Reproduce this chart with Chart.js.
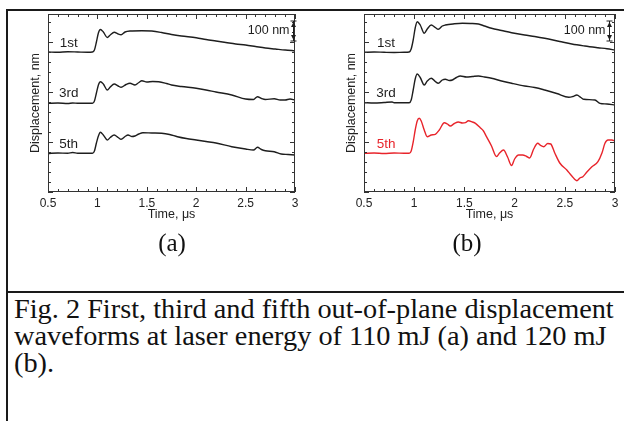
<!DOCTYPE html>
<html lang="en">
<head>
<meta charset="UTF-8">
<title>Fig. 2 displacement waveforms</title>
<script src="https://cdn.jsdelivr.net/npm/chart.js"></script>
<style>
  * { margin: 0; padding: 0; box-sizing: border-box; }
  body {
    width: 624px; height: 421px; position: relative; overflow: hidden;
    background: #fff; font-family: 'Liberation Sans', Arial, sans-serif;
  }
  .rule { position: absolute; background: #1a1a1a; }
  canvas { position: absolute; top: 0; }
  #chartA { left: 0; }
  #chartB { left: 316px; }
  .panel {
    position: absolute; top: 243px; transform: translate(-50%, -50%);
    font-family: 'Liberation Serif', 'Times New Roman', serif; font-size: 25px; color: #111;
  }
  .caption {
    position: absolute; left: 14px; top: 296px;
    font-family: 'Liberation Serif', 'Times New Roman', serif;
    font-size: 26.5px; line-height: 27px; color: #111; white-space: nowrap;
    transform: scaleX(1.068); transform-origin: left top;
  }
</style>
</head>
<body>
  <div class="rule" style="left:6px; top:9px; width:618px; height:2px;"></div>
  <div class="rule" style="left:6px; top:9px; width:2px; height:412px;"></div>
  <div class="rule" style="left:6px; top:291px; width:618px; height:2px;"></div>

  <canvas id="chartA" width="312" height="230"></canvas>
  <canvas id="chartB" width="308" height="230"></canvas>

  <div class="panel" style="left:172px;">(a)</div>
  <div class="panel" style="left:467px;">(b)</div>

  <div class="caption">Fig. 2 First, third and fifth out-of-plane displacement<br>waveforms at laser energy of 110 mJ (a) and 120 mJ<br>(b).</div>

<script>
// axis ticks
const xTickValues = [0.5, 1, 1.5, 2, 2.5, 3];
const xTickLabels = ['0.5', '1', '1.5', '2', '2.5', '3'];
const traceNames = ['1st', '3rd', '5th'];

// (a) 110 mJ  - time in us, displacement in nm (traces offset)
const a1Time = [0.5, 0.6, 0.7, 0.8, 0.9, 0.95, 0.97, 0.99, 1.01, 1.03, 1.06, 1.1, 1.13, 1.17, 1.21, 1.24, 1.28, 1.33, 1.45, 1.55, 1.65, 1.75, 1.85, 2.0, 2.1, 2.2, 2.3, 2.4, 2.5, 2.6, 2.7, 2.8, 2.9, 3.0];
const a1Disp = [700, 698.5, 701, 700, 699, 700, 710, 750, 795, 812.5, 800, 772.5, 785, 798.5, 790, 786.5, 800, 805, 806.5, 805, 797.5, 787.5, 780, 771.5, 762.5, 755, 747.5, 740, 735, 727.5, 720, 715, 710, 706.5];

const a3Time = [0.5, 0.6, 0.7, 0.75, 0.8, 0.9, 0.95, 0.97, 0.99, 1.01, 1.03, 1.06, 1.1, 1.13, 1.17, 1.21, 1.24, 1.29, 1.33, 1.38, 1.42, 1.45, 1.5, 1.56, 1.62, 1.7, 1.75, 1.85, 2.0, 2.1, 2.2, 2.36, 2.5, 2.58, 2.62, 2.66, 2.7, 2.79, 2.85, 2.9, 2.95, 3.0];
const a3Disp = [443.5, 445, 442.5, 445, 443.5, 443.5, 443.5, 455, 495, 535, 551.5, 540, 510, 525, 540, 530, 523.5, 537.5, 543.5, 535, 547.5, 556.5, 550, 552.5, 551.5, 542.5, 535, 527.5, 518.5, 510, 500, 485, 465, 462.5, 476.5, 467.5, 462.5, 466.5, 460, 460, 465, 460];

const a5Time = [0.5, 0.6, 0.7, 0.75, 0.8, 0.9, 0.95, 0.97, 0.99, 1.01, 1.03, 1.06, 1.1, 1.13, 1.17, 1.21, 1.24, 1.28, 1.31, 1.35, 1.38, 1.42, 1.46, 1.55, 1.65, 1.73, 1.81, 1.9, 2.0, 2.1, 2.2, 2.36, 2.5, 2.58, 2.62, 2.66, 2.7, 2.79, 2.86, 2.93, 3.0];
const a5Disp = [192.5, 195, 193.5, 197.5, 193.5, 193.5, 193.5, 205, 245, 280, 298.5, 285, 260, 272.5, 285, 272.5, 263.5, 277.5, 285, 277.5, 280, 290, 296.5, 295, 293.5, 287.5, 276.5, 267.5, 260, 252.5, 245, 226.5, 215, 210, 223.5, 212.5, 206.5, 201.5, 190, 187.5, 185];

// (b) 120 mJ
const b1Time = [0.5, 0.6, 0.7, 0.8, 0.9, 0.95, 0.97, 0.99, 1.01, 1.03, 1.06, 1.1, 1.13, 1.17, 1.21, 1.24, 1.28, 1.31, 1.4, 1.48, 1.56, 1.64, 1.7, 1.77, 1.87, 1.97, 2.1, 2.2, 2.3, 2.45, 2.57, 2.7, 2.83, 2.92, 3.0];
const b1Disp = [698.5, 700, 698.5, 697.5, 698.5, 700, 715, 760, 820, 851.5, 835, 793.5, 815, 835, 822.5, 813.5, 830, 835, 841, 843.5, 842.5, 840, 830, 818.5, 807.5, 796.5, 785, 777.5, 768.5, 752.5, 740, 730, 721.5, 716, 710];

const b3Time = [0.5, 0.6, 0.7, 0.78, 0.8, 0.9, 0.95, 0.97, 0.99, 1.01, 1.03, 1.06, 1.1, 1.13, 1.17, 1.21, 1.24, 1.28, 1.31, 1.35, 1.38, 1.42, 1.46, 1.52, 1.58, 1.64, 1.7, 1.77, 1.87, 1.97, 2.1, 2.2, 2.3, 2.42, 2.54, 2.58, 2.62, 2.66, 2.69, 2.8, 2.85, 2.92, 3.0];
const b3Disp = [446.5, 445, 447.5, 450, 446.5, 446.5, 446.5, 460, 510, 565, 590, 572.5, 535, 555, 568.5, 552.5, 543.5, 560, 563.5, 557.5, 560, 572.5, 580, 575, 577.5, 580, 575, 568.5, 555, 543.5, 530, 522.5, 510, 492.5, 473.5, 477.5, 485, 472.5, 463.5, 460, 443.5, 440, 435];

const b5Time = [0.5, 0.6, 0.7, 0.8, 0.9, 0.95, 0.97, 0.99, 1.01, 1.03, 1.05, 1.07, 1.1, 1.13, 1.17, 1.21, 1.25, 1.3, 1.33, 1.36, 1.4, 1.44, 1.48, 1.51, 1.54, 1.58, 1.61, 1.66, 1.69, 1.72, 1.77, 1.82, 1.85, 1.89, 1.93, 1.97, 2.0, 2.04, 2.08, 2.12, 2.15, 2.19, 2.23, 2.26, 2.29, 2.33, 2.36, 2.4, 2.45, 2.52, 2.57, 2.62, 2.65, 2.68, 2.72, 2.77, 2.83, 2.87, 2.9, 2.93, 2.97, 3.0];
const b5Disp = [193.5, 195, 192.5, 195, 193.5, 193.5, 205, 250, 310, 355, 368.5, 355, 310, 276.5, 285, 288.5, 310, 346.5, 340, 330, 342.5, 350, 345, 346.5, 356.5, 350, 343.5, 320, 305, 276.5, 230, 177.5, 195, 210, 175, 132.5, 165, 185, 185, 177.5, 170, 215, 243.5, 232.5, 226.5, 242.5, 240, 195, 145, 110, 80, 56.5, 70, 76.5, 100, 126.5, 151.5, 195, 243.5, 260, 260, 255];

const black = '#1e1e1e';
const red = '#e8242b';
const fontFamily = "'Liberation Sans', Arial, sans-serif";

function makeFrame(cfg) {
  return {
    id: 'frame',
    afterDraw(chart) {
      const { ctx, chartArea: a, scales: { x, y } } = chart;
      ctx.save();
      ctx.strokeStyle = '#333';
      ctx.lineWidth = 1;
      ctx.strokeRect(Math.round(a.left) + 0.5, Math.round(a.top) + 0.5, Math.round(a.width) - 1, Math.round(a.height) - 1);

      // inward ticks on all four sides
      ctx.beginPath();
      for (let v = 0.5; v <= 3.0001; v += 0.1) {
        const px = Math.round(x.getPixelForValue(v)) + 0.5;
        const major = Math.abs(v * 2 - Math.round(v * 2)) < 1e-6;
        const len = major ? 5 : 3;
        ctx.moveTo(px, a.bottom); ctx.lineTo(px, a.bottom - len);
        ctx.moveTo(px, a.top); ctx.lineTo(px, a.top + len);
      }
      for (let v = 0; v <= y.max; v += 50) {
        const py = Math.round(y.getPixelForValue(v)) + 0.5;
        const len = v % 250 === 0 ? 5 : 3;
        ctx.moveTo(a.left, py); ctx.lineTo(a.left + len, py);
        ctx.moveTo(a.right, py); ctx.lineTo(a.right - len, py);
      }
      ctx.stroke();

      // trace names
      ctx.font = '13.5px ' + fontFamily;
      ctx.textAlign = 'center';
      ctx.textBaseline = 'middle';
      traceNames.forEach((name, i) => {
        ctx.fillStyle = cfg.nameColors[i];
        ctx.fillText(name, x.getPixelForValue(cfg.nameT), y.getPixelForValue(cfg.nameY[i]));
      });

      // 100 nm scale bar
      const bx = Math.round(x.getPixelForValue(cfg.barT)) + 0.5;
      const top = y.getPixelForValue(855);
      const bot = y.getPixelForValue(755);
      ctx.strokeStyle = black;
      ctx.fillStyle = black;
      ctx.beginPath();
      ctx.moveTo(bx - 3, top); ctx.lineTo(bx + 3, top);
      ctx.moveTo(bx - 3, bot); ctx.lineTo(bx + 3, bot);
      ctx.moveTo(bx, top); ctx.lineTo(bx, bot);
      ctx.stroke();
      ctx.beginPath();
      ctx.moveTo(bx, top + 1); ctx.lineTo(bx - 2.5, top + 6); ctx.lineTo(bx + 2.5, top + 6); ctx.closePath();
      ctx.moveTo(bx, bot - 1); ctx.lineTo(bx - 2.5, bot - 6); ctx.lineTo(bx + 2.5, bot - 6); ctx.closePath();
      ctx.fill();
      ctx.font = '12.5px ' + fontFamily;
      ctx.textAlign = 'right';
      ctx.fillText('100 nm', bx - 4, y.getPixelForValue(805));
      ctx.restore();
    }
  };
}

function buildChart(id, traces, cfg) {
  return new Chart(document.getElementById(id), {
    type: 'line',
    data: {
      datasets: traces.map(tr => ({
        data: tr.t.map((t, i) => ({ x: t, y: tr.d[i] })),
        borderColor: tr.color,
        borderWidth: 1.4,
        pointRadius: 0,
        cubicInterpolationMode: 'monotone',
        fill: false
      }))
    },
    options: {
      responsive: false,
      animation: false,
      devicePixelRatio: 1,
      layout: { padding: { top: 14, right: cfg.padRight, left: 0, bottom: 0 } },
      plugins: { legend: { display: false }, tooltip: { enabled: false } },
      scales: {
        x: {
          type: 'linear', min: 0.5, max: 3,
          afterBuildTicks: s => { s.ticks = xTickValues.map(v => ({ value: v })); },
          afterFit: s => { s.height = 38; },
          grid: { display: false, drawTicks: false },
          border: { display: false },
          ticks: {
            autoSkip: false, maxRotation: 0, padding: 4, color: '#222',
            font: { size: 12, family: fontFamily },
            callback: v => xTickLabels[xTickValues.indexOf(v)]
          },
          title: {
            display: true, text: 'Time, μs', color: '#222',
            font: { size: 12.5, family: fontFamily }, padding: { top: 8, bottom: 8 }
          }
        },
        y: {
          type: 'linear', min: 0, max: 890,
          afterFit: s => { s.width = 48; },
          grid: { display: false, drawTicks: false },
          border: { display: false },
          ticks: { display: false },
          title: {
            display: true, text: 'Displacement, nm', color: '#222',
            font: { size: 12.5, family: fontFamily }, padding: { top: 28, bottom: 0 }
          }
        }
      }
    },
    plugins: [makeFrame(cfg)]
  });
}

buildChart('chartA', [
  { t: a1Time, d: a1Disp, color: black },
  { t: a3Time, d: a3Disp, color: black },
  { t: a5Time, d: a5Disp, color: black }
], { padRight: 17, nameT: 0.71, nameY: [745, 495, 240], nameColors: [black, black, black], barT: 2.98 });

buildChart('chartB', [
  { t: b1Time, d: b1Disp, color: black },
  { t: b3Time, d: b3Disp, color: black },
  { t: b5Time, d: b5Disp, color: red }
], { padRight: 9, nameT: 0.72, nameY: [745, 495, 240], nameColors: [black, black, red], barT: 2.94 });
</script>
</body>
</html>
